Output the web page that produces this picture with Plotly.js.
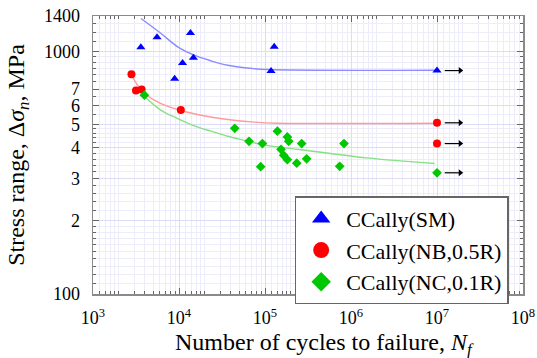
<!DOCTYPE html>
<html>
<head>
<meta charset="utf-8">
<script src="https://cdn.plot.ly/plotly-3.0.1.min.js"></script>
<style>
html,body{margin:0;padding:0;background:#fff;}
#chart{width:537px;height:358px;}
</style>
</head>
<body>
<div id="chart"></div>
<script>
// ---- data ----
const seriesNames = ["CCally(SM)", "CCally(NB,0.5R)", "CCally(NC,0.1R)"];

const smN = [3600, 5550, 13600, 11000, 14700, 8900, 128000, 117500, 1e7];
const smS = [1040, 1144, 1190, 897, 941, 771, 1045, 830, 834];

const nbN = [2800, 3160, 3680, 10500, 1e7, 1e7];
const nbS = [805, 690, 697, 574, 508, 417];

const ncN = [3960, 44500, 65200, 93300, 89100, 139300, 182000, 188700, 153500,
             165000, 182000, 234000, 267000, 305000, 829000, 739000, 1e7];
const ncS = [660, 482, 426, 417, 335, 469, 444, 426, 395,
             373, 358, 346, 417, 361, 417, 336, 316];

// fitted curves
const smFitN = [3614, 6180, 9660, 15100, 23550, 36840, 57560, 107500, 1e7];
const smFitS = [1367, 1186, 1045, 965, 915, 877, 856, 842, 837];
const nbFitN = [2767, 3311, 3960, 6180, 10550, 18020, 36840, 75300, 140500, 1e7];
const nbFitS = [805, 725, 671, 610, 571, 546, 524, 511, 506, 506];
const ncFitN = [3960, 6180, 9660, 15100, 23550, 36840, 57560, 89800, 140500, 253000, 1510000, 9400000];
const ncFitS = [654, 572, 529, 493, 469, 447, 430, 414, 404, 394, 364, 345];

// run-out points (arrows)
const runoutN = [1e7, 1e7, 1e7, 1e7];
const runoutS = [834, 508, 417, 316];

// ticks
const xTickVals = [1e3, 1e4, 1e5, 1e6, 1e7, 1e8];
const xTickText = ["10<sup>3</sup>", "10<sup>4</sup>", "10<sup>5</sup>", "10<sup>6</sup>", "10<sup>7</sup>", "10<sup>8</sup>"];
const yTickVals = [100, 200, 300, 400, 500, 600, 700, 1000, 1400];
const yTickText = ["100", "2", "3", "4", "5", "6", "7", "1000", "1400"];

const xTitle = "Number of cycles to failure, <i>N</i><sub><i>f</i></sub>";
const yTitle = "Stress range, Δ<i>σ</i><sub><i>n</i></sub>, MPa";

// ---- styling ----
const FONT = "'Liberation Serif', 'Times New Roman', serif";
const cBlue = "#0000ff", cRed = "#ff0000", cGreen = "#00c800";

// minor tick positions
const xMinor = [];
for (let d = 3; d < 8; d++) {
  [1.2, 1.4, 1.6, 1.8, 2, 3, 4, 5, 6, 7, 8, 9].forEach(m => xMinor.push(m * Math.pow(10, d)));
}
const yMinor = [];
for (let v = 110; v < 200; v += 10) yMinor.push(v);
for (let v = 220; v < 500; v += 20) yMinor.push(v);
for (let v = 550; v < 1000; v += 50) yMinor.push(v);
[1100, 1200, 1300].forEach(v => yMinor.push(v));

const traces = [
  {x: smFitN, y: smFitS, mode: "lines", line: {color: "#8c8cff", width: 1.4, shape: "spline"}, showlegend: false, hoverinfo: "skip"},
  {x: nbFitN, y: nbFitS, mode: "lines", line: {color: "#ff9a9a", width: 1.4, shape: "spline"}, showlegend: false, hoverinfo: "skip"},
  {x: ncFitN, y: ncFitS, mode: "lines", line: {color: "#86e086", width: 1.4, shape: "spline"}, showlegend: false, hoverinfo: "skip"},
  {x: smN, y: smS, mode: "markers", marker: {symbol: "triangle-up", size: 8, color: cBlue}, showlegend: false},
  {x: nbN, y: nbS, mode: "markers", marker: {symbol: "circle", size: 8, color: cRed}, showlegend: false},
  {x: ncN, y: ncS, mode: "markers", marker: {symbol: "diamond", size: 7.5, color: cGreen}, showlegend: false},
  // legend entries
  {x: [null], y: [null], mode: "markers", name: seriesNames[0], marker: {symbol: "triangle-up", size: 16, color: cBlue}},
  {x: [null], y: [null], mode: "markers", name: seriesNames[1], marker: {symbol: "circle", size: 16, color: cRed}},
  {x: [null], y: [null], mode: "markers", name: seriesNames[2], marker: {symbol: "diamond", size: 15, color: cGreen}}
];

// run-out arrows: short black shaft + arrow head to the right of each run-out point
runoutN.forEach((n, i) => {
  traces.push({
    x: [n * Math.pow(10, 0.09), n * Math.pow(10, 0.27)], y: [runoutS[i], runoutS[i]],
    mode: "lines", line: {color: "#000", width: 1.2}, showlegend: false, hoverinfo: "skip"
  });
  traces.push({
    x: [n * Math.pow(10, 0.27)], y: [runoutS[i]],
    mode: "markers", marker: {symbol: "triangle-right", size: 6, color: "#000"}, showlegend: false, hoverinfo: "skip"
  });
});

const axisCommon = {
  showline: true, linecolor: "#8a8a8a", linewidth: 1.5, mirror: "allticks",
  ticks: "inside", ticklen: 6, tickcolor: "#666", tickwidth: 1,
  showgrid: true, gridcolor: "#dcdcf6", gridwidth: 1,
  zeroline: false
};

const layout = {
  width: 537, height: 358,
  margin: {l: 93, r: 14, t: 16, b: 64},
  paper_bgcolor: "#fff", plot_bgcolor: "#fff",
  font: {family: FONT, color: "#000"},
  xaxis: Object.assign({}, axisCommon, {
    type: "log", range: [3, 8],
    tickmode: "array", tickvals: xTickVals, ticktext: xTickText,
    tickfont: {family: FONT, size: 18, color: "#000"},
    ticklabelstandoff: 7,
    minor: {tickmode: "array", tickvals: xMinor, ticks: "inside", ticklen: 3, tickcolor: "#666",
            showgrid: true, gridcolor: "#ececfb", gridwidth: 1},
    automargin: false
  }),
  yaxis: Object.assign({}, axisCommon, {
    type: "log", range: [2, Math.log10(1400)],
    tickmode: "array", tickvals: yTickVals, ticktext: yTickText,
    tickfont: {family: FONT, size: 18, color: "#000"},
    ticklabelstandoff: 8,
    minor: {tickmode: "array", tickvals: yMinor, ticks: "inside", ticklen: 3, tickcolor: "#666",
            showgrid: true, gridcolor: "#ececfb", gridwidth: 1},
    title: {text: yTitle, font: {family: FONT, size: 24, color: "#000"}, standoff: 12},
    automargin: false
  }),
  legend: {
    x: 0.469, xanchor: "left", y: 0.352, yanchor: "top",
    bgcolor: "#fff", bordercolor: "#666", borderwidth: 1.5,
    font: {family: FONT, size: 22, color: "#000"},
    itemwidth: 40, tracegroupgap: 0
  },
  annotations: [{
    text: xTitle, xref: "paper", yref: "paper", x: 0.5395, y: -0.18,
    xanchor: "center", yanchor: "middle", showarrow: false,
    font: {family: FONT, size: 24, color: "#000"}
  }],
  showlegend: true
};

Plotly.newPlot("chart", traces, layout, {displayModeBar: false, staticPlot: true});
</script>
</body>
</html>
